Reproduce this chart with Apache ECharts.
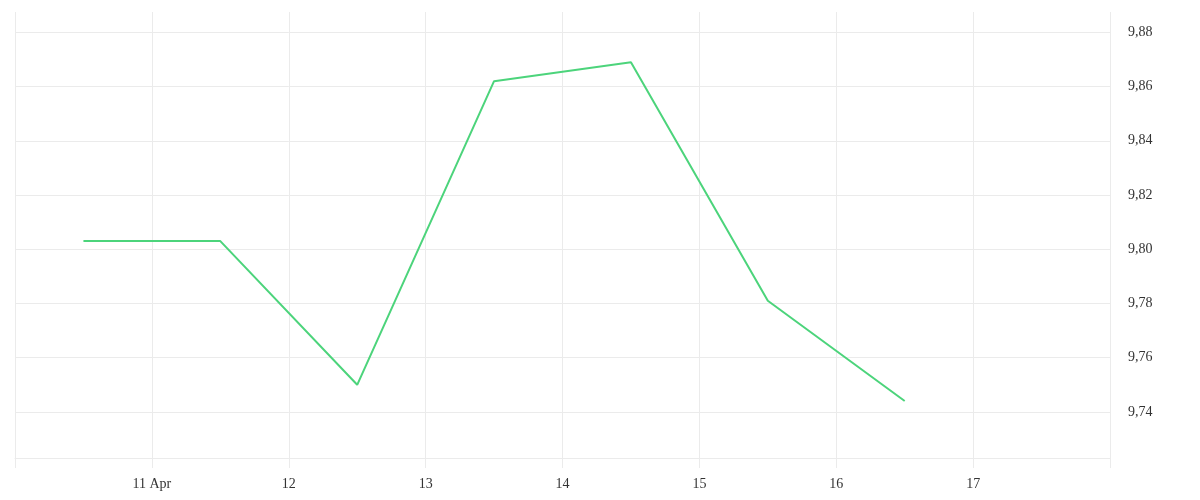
<!DOCTYPE html>
<html>
<head>
<meta charset="utf-8">
<script src="https://cdn.jsdelivr.net/npm/echarts@6/dist/echarts.min.js"></script>
<style>
  html, body { margin: 0; padding: 0; background: #fff; }
  #chartmain { width: 1200px; height: 500px; }
</style>
</head>
<body>
<div id="chartmain"></div>
<script>
// points sit at noon (UTC) of each day
var days = ['2024-04-10T12:00:00Z', '2024-04-11T12:00:00Z', '2024-04-12T12:00:00Z', '2024-04-13T12:00:00Z',
            '2024-04-14T12:00:00Z', '2024-04-15T12:00:00Z', '2024-04-16T12:00:00Z'];
var values = [9.803, 9.803, 9.750, 9.862, 9.869, 9.781, 9.744];
var xStart = '2024-04-10T00:00:00Z';
var xEnd = '2024-04-18T00:00:00Z';
var yMin = 9.723;
var yMax = 9.8875;

var DAY = 86400000;
var gridColor = '#ebebeb';
var textStyle = { color: '#333', fontFamily: 'Liberation Serif', fontSize: 14 };

var option = {
	animation: false,
	backgroundColor: '#fff',
	grid: {
		left: 15,
		right: 90,
		top: 12,
		bottom: 42
	},
	xAxis: {
		type: 'value',
		min: Date.parse(xStart),
		max: Date.parse(xEnd),
		interval: DAY,
		axisLine: { show: true, lineStyle: { color: gridColor } },
		axisTick: { show: true, length: 10, lineStyle: { color: gridColor } },
		splitLine: { show: true, lineStyle: { color: gridColor } },
		axisLabel: {
			margin: 19,
			color: textStyle.color,
			fontFamily: textStyle.fontFamily,
			fontSize: textStyle.fontSize,
			formatter: function(v) {
				if (v <= Date.parse(xStart) || v >= Date.parse(xEnd)) return '';
				var d = new Date(v).getUTCDate();
				return d === 11 ? d + ' Apr' : String(d);
			}
		}
	},
	yAxis: {
		type: 'value',
		position: 'right',
		min: yMin,
		max: yMax,
		splitNumber: 8,
		axisLine: { show: false },
		axisTick: { show: false },
		splitLine: { show: true, showMaxLine: false, lineStyle: { color: gridColor } },
		axisLabel: {
			showMinLabel: false,
			showMaxLabel: false,
			margin: 18,
			color: textStyle.color,
			fontFamily: textStyle.fontFamily,
			fontSize: textStyle.fontSize,
			formatter: function(v) {
				return v.toFixed(2).replace('.', ',');
			}
		}
	},
	series: [{
		type: 'line',
		data: days.map(function(d, i) { return [Date.parse(d), values[i]]; }),
		showSymbol: false,
		lineStyle: { color: '#4cd47b', width: 2 },
		itemStyle: { color: '#4cd47b' }
	}]
};

var myChart = echarts.init(document.getElementById('chartmain'));
myChart.setOption(option);
</script>
</body>
</html>
